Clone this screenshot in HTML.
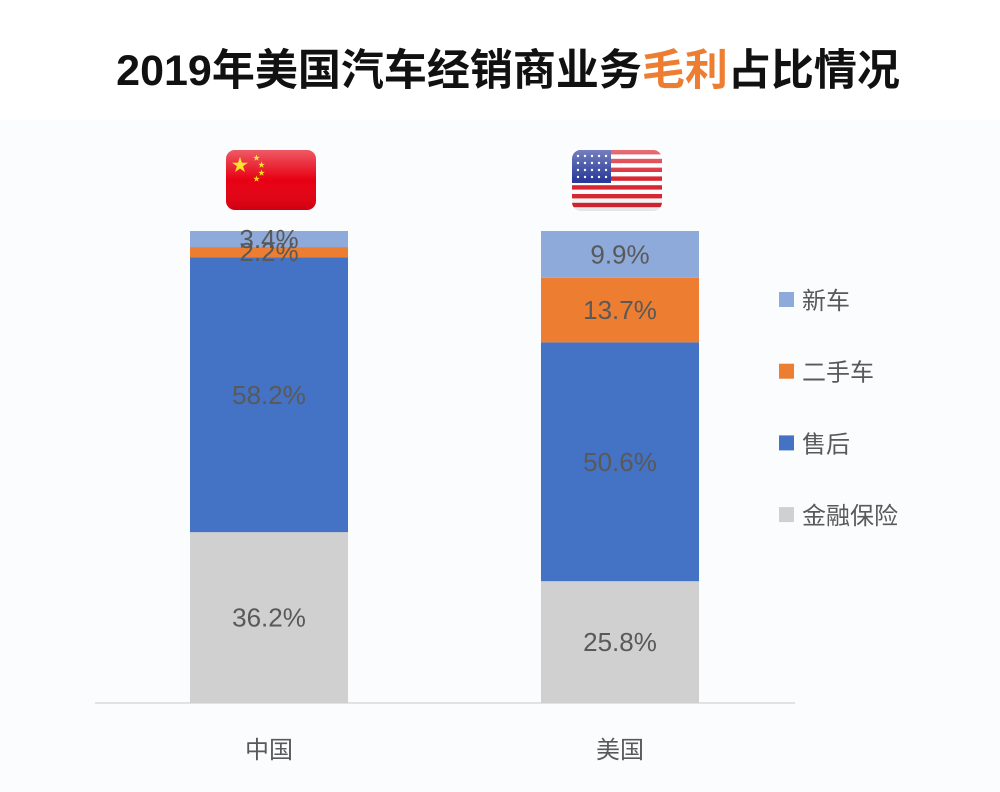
<!DOCTYPE html>
<html><head><meta charset="utf-8">
<style>
html,body{margin:0;padding:0;background:#fff;}
svg{display:block;font-family:"Liberation Sans","Noto Sans CJK SC",sans-serif;}
</style></head>
<body>
<svg id="c" width="1000" height="792" viewBox="0 0 1000 792">
<defs>
<linearGradient id="gl" x1="0" y1="0" x2="0" y2="1"><stop offset="0" stop-color="#fff" stop-opacity="0.35"/><stop offset="0.5" stop-color="#fff" stop-opacity="0"/><stop offset="1" stop-color="#000" stop-opacity="0.1"/></linearGradient>
<clipPath id="usclip"><rect x="572" y="150" width="90" height="61" rx="9"/></clipPath>
</defs>
<rect x="0" y="0" width="1000" height="792" fill="#fff"/>
<rect x="0" y="120" width="1000" height="672" fill="#fbfcfe"/>
<text x="508" y="85" text-anchor="middle" font-size="43" font-weight="bold" fill="#111">2019年美国汽车经销商业务<tspan fill="#ed7d31">毛利</tspan>占比情况</text>
<g>
<rect x="226" y="150" width="90" height="60" rx="9" fill="#e60012"/>
<text x="240" y="171" font-size="17" fill="#ffde00" text-anchor="middle">★</text>
<text x="253" y="160" font-size="7" fill="#ffde00">★</text><text x="258" y="167" font-size="7" fill="#ffde00">★</text>
<text x="258" y="175" font-size="7" fill="#ffde00">★</text><text x="253" y="181" font-size="7" fill="#ffde00">★</text>
<rect x="226" y="150" width="90" height="60" rx="9" fill="url(#gl)"/>
</g>
<g id="usflag" clip-path="url(#usclip)"></g>
<line x1="95" y1="703" x2="795" y2="703" stroke="#d9d9d9" stroke-width="1.5"/>
<g id="bars"></g>
<g id="legend"></g>
</svg>
<script>
const categories=["中国","美国"];
const seriesNames=["金融保险","售后","二手车","新车"];
const seriesColors=["#d0d0d0","#4472c4","#ed7d31","#8eaadb"];
const finance=[36.2,25.8];
const afterSales=[58.2,50.6];
const usedCar=[2.2,13.7];
const newCar=[3.4,9.9];
const series=[finance,afterSales,usedCar,newCar];
const NS="http://www.w3.org/2000/svg";
const base=703, plotH=472;
const xPos=i=>190+i*351, bw=158;
const y=v=>base-v/100*plotH;
const bars=document.getElementById('bars');
function mk(t,a,p){const e=document.createElementNS(NS,t);for(const k in a)e.setAttribute(k,a[k]);p.appendChild(e);return e;}
categories.forEach((c,i)=>{
  let cum=0;
  series.forEach((s,j)=>{
    const v=s[i];
    const r=mk('rect',{x:xPos(i),y:y(cum+v),width:bw,height:y(cum)-y(cum+v),fill:seriesColors[j]},bars);
    
    
    cum+=v;
  });
  cum=0;
  series.forEach((s,j)=>{
    const v=s[i];
    const t=mk('text',{x:xPos(i)+bw/2,y:(y(cum)+y(cum+v))/2+9,'text-anchor':'middle','font-size':26,fill:'#595959'},bars);
    t.textContent=v.toFixed(1)+'%';
    
    
    cum+=v;
  });
  const l=mk('text',{x:xPos(i)+bw/2,y:758,'text-anchor':'middle','font-size':24,fill:'#595959'},bars);
  l.textContent=c;
  
  
});
const leg=document.getElementById('legend');
const order=[3,2,1,0];
order.forEach((j,k)=>{
  const cy=300+k*71.7;
  const r=mk('rect',{x:779,y:cy-8,width:15,height:15,fill:seriesColors[j]},leg);
  
  
  const t=mk('text',{x:802,y:cy+9,'font-size':24,fill:'#595959'},leg);
  t.textContent=seriesNames[j];
  
  
});
const uf=document.getElementById('usflag');
mk('rect',{x:572,y:150,width:90,height:61,fill:'#fff'},uf);
for(let k=0;k<7;k++)mk('rect',{x:572,y:150+k*8.8,width:90,height:4.4,fill:'#d9232e'},uf);
mk('rect',{x:572,y:150,width:39,height:33,fill:'#2a3a9a'},uf);
for(let r=0;r<4;r++)for(let q=0;q<5;q++)mk('circle',{cx:578+q*7,cy:156+r*7,r:1.2,fill:'#fff'},uf);
mk('rect',{x:572,y:150,width:90,height:61,fill:'url(#gl)'},uf);
</script>
</body></html>
